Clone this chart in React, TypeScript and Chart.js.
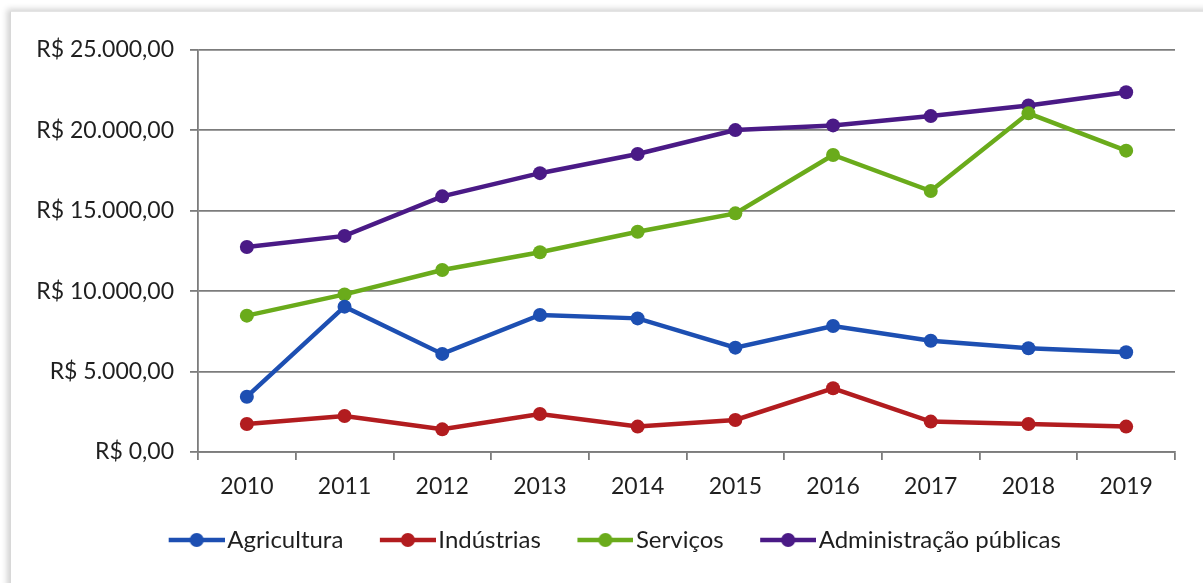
import React, { useEffect, useRef } from "react";
import { Chart, registerables } from "chart.js";

Chart.register(...registerables);

const years = ["2010", "2011", "2012", "2013", "2014", "2015", "2016", "2017", "2018", "2019"];
const agricultura = [3440, 9040, 6100, 8520, 8310, 6490, 7840, 6920, 6450, 6200];
const industrias = [1740, 2240, 1410, 2360, 1580, 1990, 3960, 1890, 1740, 1580];
const servicos = [8480, 9800, 11320, 12420, 13700, 14840, 18470, 16230, 21060, 18740];
const administracao = [12750, 13440, 15900, 17340, 18530, 20020, 20310, 20890, 21550, 22370];
const seriesNames = ["Agricultura", "Indústrias", "Serviços", "Administração públicas"];
const seriesColors = ["#1d4fb2", "#b21c1f", "#6aab1b", "#4a1a86"];
const yTickValues = [0, 5000, 10000, 15000, 20000, 25000];
const yTickLabels = ["R$ 0,00", "R$ 5.000,00", "R$ 10.000,00", "R$ 15.000,00", "R$ 20.000,00", "R$ 25.000,00"];

const FONT = "Lato";
const FS = 23;
const LFS = 24;
const GRID = "#7c7c7c";
const TEXT = "#1f1f1f";

function legendIcon(color: string): HTMLCanvasElement {
  const c = document.createElement("canvas");
  c.width = 92;
  c.height = 16;
  const ctx = c.getContext("2d")!;
  ctx.strokeStyle = color;
  ctx.lineWidth = 4.5;
  ctx.beginPath();
  ctx.moveTo(36, 8);
  ctx.lineTo(92, 8);
  ctx.stroke();
  ctx.fillStyle = color;
  ctx.beginPath();
  ctx.arc(64, 8, 7, 0, Math.PI * 2);
  ctx.fill();
  return c;
}

export default function App() {
  const ref = useRef<HTMLCanvasElement>(null);
  useEffect(() => {
    if (!ref.current) return;
    const icons = seriesColors.map(legendIcon);
    const dataSets = [agricultura, industrias, servicos, administracao];
    const chart = new Chart(ref.current, {
      type: "line",
      data: {
        labels: years,
        datasets: dataSets.map((d, i) => ({
          label: seriesNames[i],
          data: d,
          borderColor: seriesColors[i],
          backgroundColor: seriesColors[i],
          borderWidth: 4.5,
          pointRadius: 7,
          pointHoverRadius: 7,
          pointBorderWidth: 0,
          tension: 0,
        })),
      },
      options: {
        animation: false,
        responsive: false,
        layout: { padding: { left: 28, right: 28, top: 50, bottom: 21 } },
        plugins: {
          tooltip: { enabled: false },
          legend: {
            position: "bottom",
            labels: {
              usePointStyle: true,
              pointStyleWidth: 73,
              boxHeight: 16,
              padding: 10,
              color: TEXT,
              font: { family: FONT, size: LFS },
              generateLabels: (ch: any) => {
                const items = Chart.defaults.plugins.legend.labels.generateLabels(ch);
                return items.map((it: any, i: number) => ({ ...it, pointStyle: icons[i] }));
              },
            },
          },
        },
        scales: {
          x: {
            type: "category",
            offset: true,
            afterFit: (s: any) => {
              s.height = 66;
            },
            grid: {
              offset: true,
              drawOnChartArea: false,
              drawTicks: true,
              tickLength: 8,
              color: GRID,
              lineWidth: 1.8,
            },
            border: { display: true, color: GRID, width: 1.8 },
            ticks: {
              padding: 13,
              color: TEXT,
              font: { family: FONT, size: FS },
              maxRotation: 0,
            },
          },
          y: {
            min: 0,
            max: 25000,
            afterFit: (s: any) => {
              s.width = 170;
            },
            afterBuildTicks: (s: any) => {
              s.ticks = yTickValues.map((v) => ({ value: v }));
            },
            grid: {
              drawTicks: true,
              tickLength: 8,
              color: GRID,
              lineWidth: 1.8,
            },
            border: { display: true, color: GRID, width: 1.8 },
            ticks: {
              padding: 16,
              color: TEXT,
              font: { family: FONT, size: FS },
              callback: (v: any) => {
                const idx = yTickValues.indexOf(Number(v));
                return idx >= 0 ? yTickLabels[idx] : "";
              },
            },
          },
        },
      },
    });
    return () => chart.destroy();
  }, []);

  return (
    <div style={{ position: "fixed", left: 0, top: 0, width: 1203, height: 583, background: "#fff", overflow: "hidden" }}>
      <div
        style={{
          position: "absolute",
          left: 10,
          top: 11,
          width: 1300,
          height: 700,
          background: "#fff",
          borderLeft: "1px solid #d8d8d8",
          borderTop: "1px solid #e4e4e4",
          boxShadow: "-3px -2px 6px rgba(0,0,0,0.18)",
        }}
      />
      <canvas ref={ref} width={1203} height={583} style={{ position: "absolute", left: 0, top: 0, width: 1203, height: 583 }} />
    </div>
  );
}
